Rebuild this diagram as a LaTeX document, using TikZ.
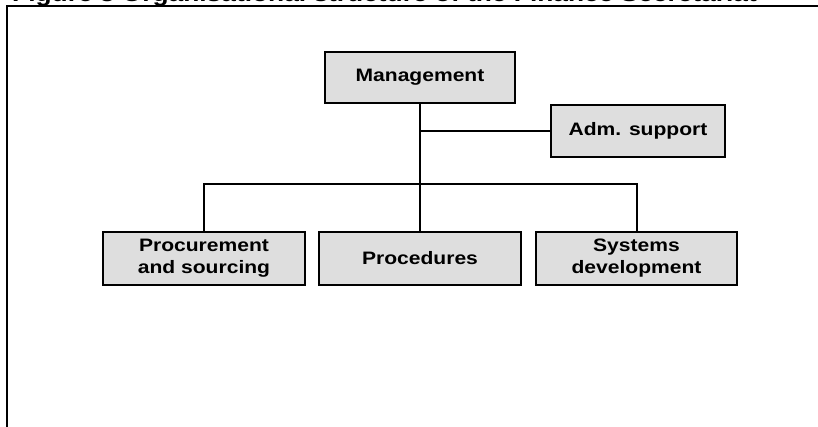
\documentclass[tikz,border=0pt]{standalone}
\usepackage{fontspec}
\setmainfont{Liberation Sans}[FakeStretch=1.17]
\begin{document}
\begin{tikzpicture}[x=1pt,y=-1pt,
  unit/.style={draw=black, line width=2pt, fill=black!13, inner sep=0pt,
    align=center, font=\bfseries\fontsize{18}{22}\selectfont,
    minimum height=53pt, minimum width=202pt},
  link/.style={line width=2pt, line cap=rect}]
\useasboundingbox (0,0) rectangle (818,426);
\begin{scope}
\clip (0,0) rectangle (818,426);
% caption above the frame, cut by the page edge
\node[anchor=base west, inner sep=0pt, font=\bfseries\fontsize{22.5}{26}\selectfont]
  (caption) at (12,1) {Figure 3 Organisational structure of the Finance Secretariat};
% outer frame
\draw[line width=2pt] (6.5,440) -- (6.5,6) -- (830,6);
\end{scope}

% units
\node[unit, minimum width=190pt, minimum height=51pt] (mgmt) at (420,77.5) {Management};
\node[unit, minimum width=174pt, minimum height=52pt] (adm) at (638,131) {Adm. support};
\node[unit] (proc) at (204,258.5) {Procurement\\and sourcing};
\node[unit] (pro) at (420,258.5) {Procedures};
\node[unit, minimum width=201pt] (sys) at (636.5,258.5) {Systems\\development};

% connectors
\coordinate (branch) at (420,131);
\coordinate (bus) at (420,184);
\draw[link] (mgmt.south) -- (branch) -- (bus);
\draw[link] (branch) -- (adm.west);
\draw[link] (bus) -| (proc.north);
\draw[link] (bus) -| (sys.north);
\draw[link] (bus) -- (pro.north);
\end{tikzpicture}
\end{document}
